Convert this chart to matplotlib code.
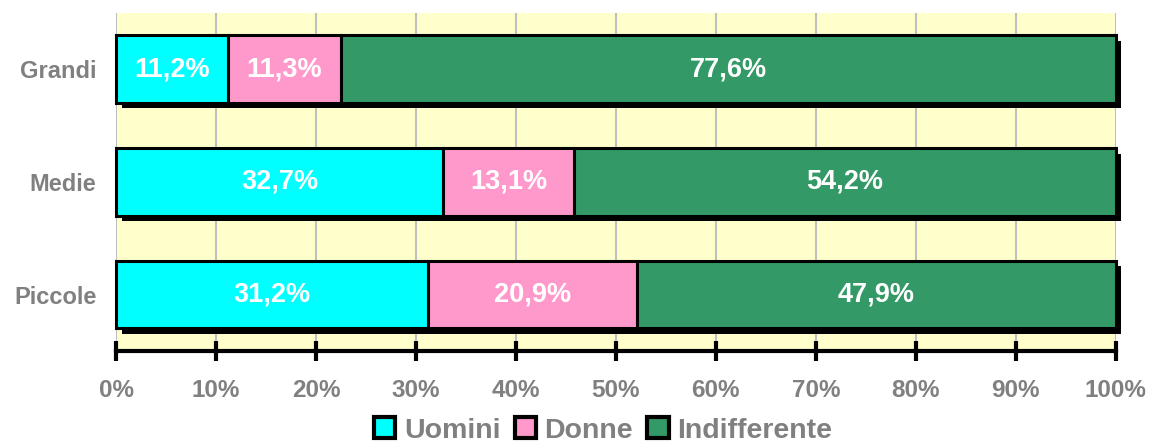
import matplotlib.pyplot as plt
import matplotlib.patheffects as pe
import numpy as np

# Dati
categorie = ['Piccole', 'Medie', 'Grandi']
uomini = [31.2, 32.7, 11.2]
donne = [20.9, 13.1, 11.3]
indifferente = [47.9, 54.2, 77.6]
serie = ['Uomini', 'Donne', 'Indifferente']
colori = ['#00FFFF', '#FF99CC', '#339966']

plt.rcParams['font.family'] = ['Liberation Sans', 'DejaVu Sans']

valori = np.array([uomini, donne, indifferente])
totali = valori.sum(axis=0)
perc = valori / totali * 100  # grafico in pila 100%

fig = plt.figure(figsize=(11.49, 4.44), dpi=100)
ax = fig.add_axes([0.101, 0.2095, 0.87, 0.762])
ax.set_facecolor('#FFFFCC')

y = np.arange(len(categorie))
ombra = [pe.SimplePatchShadow(offset=(4, -4), shadow_rgbFace='black', alpha=1), pe.Normal()]
sinistra = np.zeros(len(categorie))
for i in range(len(serie)):
    bars = ax.barh(y, perc[i], left=sinistra, height=0.6, color=colori[i],
                   edgecolor='black', linewidth=2.2, label=serie[i], zorder=3)
    for b in bars:
        b.set_path_effects(ombra)
        b.set_clip_on(False)
    for j in range(len(categorie)):
        testo = f"{valori[i][j]:.1f}".replace('.', ',') + '%'
        ax.text(sinistra[j] + perc[i][j] / 2, y[j], testo, ha='center', va='center',
                color='white', fontsize=19.5, fontweight='bold', zorder=4)
    sinistra = sinistra + perc[i]

ax.set_xlim(0, 100)
ax.set_ylim(-0.5, 2.5)
ax.set_xticks(np.arange(0, 101, 10))
ax.set_xticklabels([f'{v}%' for v in range(0, 101, 10)])
ax.set_yticks(y)
ax.set_yticklabels(categorie)
ax.grid(axis='x', color='#C0C0C0', linewidth=1.5, zorder=0)
ax.set_axisbelow(True)

for s in ['top', 'right', 'left']:
    ax.spines[s].set_visible(False)
ax.spines['bottom'].set_linewidth(3)
ax.tick_params(axis='x', direction='inout', length=14, width=3, colors='black',
               labelcolor='#808080', labelsize=17.5, pad=13)
ax.tick_params(axis='y', length=0, labelcolor='#808080', labelsize=17, pad=14)
for lab in ax.get_xticklabels() + ax.get_yticklabels():
    lab.set_fontweight('bold')

leg = fig.legend(loc='lower center', bbox_to_anchor=(0.525, -0.057), ncol=3, frameon=False,
                 handlelength=0.75, handleheight=0.75, handletextpad=0.3, columnspacing=0.5,
                 prop={'size': 20.5, 'weight': 'bold'})
for t in leg.get_texts():
    t.set_color('#808080')
for h in leg.legend_handles:
    h.set_path_effects([])
    h.set_linewidth(3)

fig.savefig('out.png', dpi=100)
